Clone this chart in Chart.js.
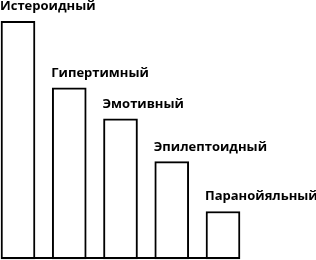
<!DOCTYPE html>
<html lang="ru">
<head>
  <meta charset="UTF-8" />
  <title>Типы акцентуаций</title>
  <script src="https://cdn.jsdelivr.net/npm/chart.js@4.4.1/dist/chart.umd.min.js"></script>
  <style>
    html, body { margin: 0; padding: 0; background: #fff; }
    .wrap { width: 316px; height: 260px; }
  </style>
</head>
<body>
  <div class="wrap"><canvas id="chart" role="img" aria-label="Типы акцентуаций"></canvas></div>

  <script>
  const categories = ['Истероидный', 'Гипертимный', 'Эмотивный', 'Эпилептоидный', 'Паранойяльный'];
  const values     = [100, 72, 59, 41, 20];

  // подписи над столбцами + линия основания под ними
  const topLabels = {
    id: 'topLabels',
    afterDatasetsDraw(chart) {
      const ctx = chart.ctx;
      const bars = chart.getDatasetMeta(0).data;
      const first = bars[0], last = bars[bars.length - 1];
      ctx.save();
      ctx.strokeStyle = '#000';
      ctx.lineWidth = 2;
      ctx.beginPath();
      ctx.moveTo(first.x - first.width / 2, first.base - 1);
      ctx.lineTo(last.x + last.width / 2, last.base - 1);
      ctx.stroke();

      ctx.font = 'bold 13px "Open Sans", sans-serif';
      ctx.fillStyle = '#000';
      ctx.textAlign = 'left';
      ctx.textBaseline = 'alphabetic';
      bars.forEach((b, i) => {
        ctx.fillText(chart.data.labels[i], b.x - b.width / 2 - 1, b.y - 11);
      });
      ctx.restore();
    }
  };

  new Chart(document.getElementById('chart'), {
    type: 'bar',
    data: {
      labels: categories,
      datasets: [{
        data: values,
        backgroundColor: '#fff',
        borderColor: '#000',
        borderWidth: 2,
        borderSkipped: false,
        barThickness: 34,
        clip: false
      }]
    },
    options: {
      responsive: true,
      maintainAspectRatio: false,
      animation: false,
      layout: { padding: { left: 18, right: 93, top: 0, bottom: 1 } },
      plugins: { legend: { display: false }, tooltip: { enabled: false } },
      scales: {
        x: { display: false, offset: false },
        y: { display: false, min: 0, max: 109 }
      }
    },
    plugins: [topLabels]
  });
  </script>
</body>
</html>
